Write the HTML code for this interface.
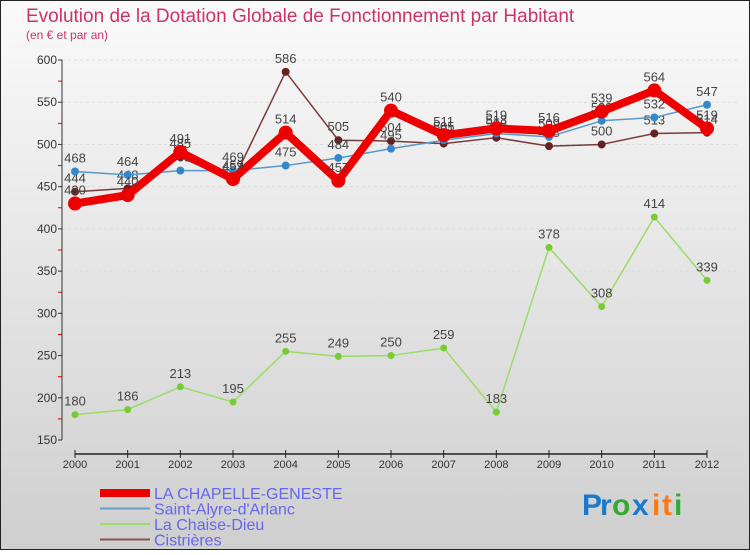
<!DOCTYPE html>
<html><head><meta charset="utf-8"><style>
body{margin:0;width:750px;height:550px;overflow:hidden;font-family:"Liberation Sans",sans-serif}
</style></head><body>
<svg id="c" width="750" height="550" xmlns="http://www.w3.org/2000/svg">
<defs><linearGradient id="bg" x1="0" y1="0" x2="0" y2="1"><stop offset="0" stop-color="#fafafa"/><stop offset="1" stop-color="#cfcfcf"/></linearGradient></defs>
<rect x="0.5" y="0.5" width="749" height="549" fill="url(#bg)" stroke="#222"/>
<text x="26" y="22" font-size="19" fill="#cc3366">Evolution de la Dotation Globale de Fonctionnement par Habitant</text>
<text x="26" y="39" font-size="12" fill="#cc3366">(en € et par an)</text>
<g id="grid"></g><g id="axes"></g><g id="series"></g><g id="legend"></g>
<g font-size="30" font-weight="bold">
<text x="582" y="515" fill="#1a7acc">P</text><text x="600" y="515" fill="#1a7acc">r</text><text x="612" y="515" fill="#33aa33">o</text><text x="632" y="515" fill="#1a7acc">x</text><text x="652" y="515" fill="#ff7711">i</text><text x="662" y="515" fill="#ff7711">t</text><text x="674" y="515" fill="#33aa33">i</text>
</g>
</svg>
<script>
const years=[2000,2001,2002,2003,2004,2005,2006,2007,2008,2009,2010,2011,2012];
const chapelle=[430,440,491,459,514,457,540,511,519,516,539,564,519];
const alyre=[468,464,469,469,475,484,495,505,513,509,528,532,547];
const chaise=[180,186,213,195,255,249,250,259,183,378,308,414,339];
const cistrieres=[444,448,485,457,586,505,504,501,508,498,500,513,514];
const yTicks=[150,200,250,300,350,400,450,500,550,600];
const NS="http://www.w3.org/2000/svg";
const X=i=>75+i*(707-75)/(years.length-1);
const Y=v=>60+(600-v)*(380/450);
function mk(p,t,a){const e=document.createElementNS(NS,t);for(const k in a)e.setAttribute(k,a[k]);p.appendChild(e);return e;}
const grid=document.getElementById('grid'),axes=document.getElementById('axes'),ser=document.getElementById('series'),leg=document.getElementById('legend');
yTicks.forEach(v=>{
 const g=mk(grid,'line',{x1:62,x2:740,y1:Y(v),y2:Y(v),stroke:'#ddd','stroke-dasharray':'3,3'});
 
 
 const t=mk(axes,'text',{x:57,y:Y(v)+4,'font-size':12,'text-anchor':'end',fill:'#333'});t.textContent=v;
 
 
 mk(axes,'line',{x1:58,x2:62,y1:Y(v),y2:Y(v),stroke:'#333'});
 if(v<600){mk(axes,'line',{x1:58,x2:62,y1:Y(v+25),y2:Y(v+25),stroke:'#e00'});}
});
const ya=mk(axes,'line',{x1:62,x2:62,y1:Y(600),y2:Y(150),stroke:'#333'});


const xa=mk(axes,'line',{x1:75,x2:707,y1:454,y2:454,stroke:'#222','stroke-width':1.5});


years.forEach((y,i)=>{
 mk(axes,'line',{x1:X(i),x2:X(i),y1:450,y2:458,stroke:'#222'});
 const t=mk(axes,'text',{x:X(i),y:468,'font-size':11,'text-anchor':'middle',fill:'#333'});t.textContent=y;
 
 
});
const series=[
 {d:chaise,c:'#99dd66',pc:'#77cc33',w:1.5,r:3.5,n:'la-chaise-dieu'},
 {d:cistrieres,c:'#7a3a3a',pc:'#662222',w:1.5,r:4,n:'cistrieres'},
 {d:alyre,c:'#5599cc',pc:'#3388cc',w:1.5,r:4,n:'saint-alyre'},
 {d:chapelle,c:'#ee0000',pc:'#ee0000',w:8,r:7,n:'la-chapelle-geneste'}];
series.forEach(s=>{
 const l=mk(ser,'polyline',{points:s.d.map((v,i)=>X(i)+','+Y(v)).join(' '),fill:'none',stroke:s.c,'stroke-width':s.w,'stroke-linejoin':'round'});
 
 
 s.d.forEach((v,i)=>{
  const p=mk(ser,'circle',{cx:X(i),cy:Y(v),r:s.r,fill:s.pc});
  
  
  const t=mk(ser,'text',{x:X(i),y:Y(v)-9,'font-size':13,'text-anchor':'middle',fill:'#444'});t.textContent=v;
  
  
 });
});
const li=[['LA CHAPELLE-GENESTE','#ee0000',8],['Saint-Alyre-d\'Arlanc','#6aa0cc',2],['La Chaise-Dieu','#99dd66',2],['Cistrières','#8a5050',2]];
li.forEach((e,i)=>{
 const y=493+i*15.5;
 const l=mk(leg,'line',{x1:100,x2:150,y1:y,y2:y,stroke:e[1],'stroke-width':e[2]});
 
 
 const t=mk(leg,'text',{x:154,y:y+6,'font-size':16,fill:'#6666ee'});t.textContent=e[0];
 
 
});
</script>
</body></html>
